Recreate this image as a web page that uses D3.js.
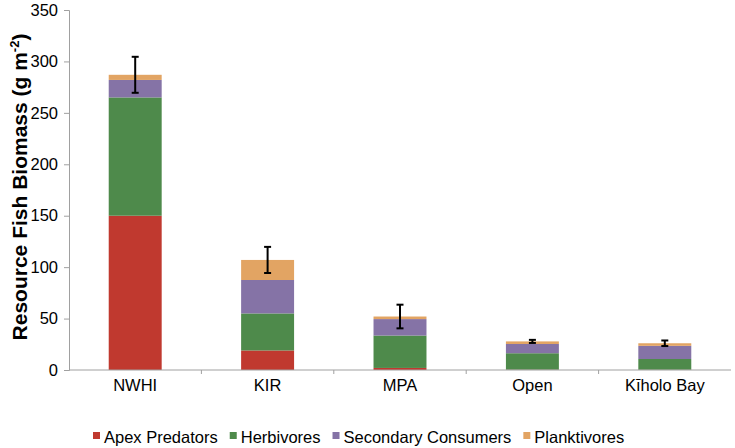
<!DOCTYPE html>
<html><head><meta charset="utf-8">
<script src="https://cdn.jsdelivr.net/npm/d3@7"></script>
<style>body{margin:0;background:#fff}svg{display:block;font-family:"Liberation Sans",Arial,sans-serif}</style>
</head><body><svg id="c" width="735" height="448"></svg>
<script>
const categories = ["NWHI","KIR","MPA","Open","Kīholo Bay"];
const seriesNames = ["Apex Predators","Herbivores","Secondary Consumers","Planktivores"];
const apex = [150, 19, 2, 0.3, 0.2];
const herbivores = [115, 36, 31.5, 16, 10.5];
const secondary = [17, 32.5, 16, 9, 12.8];
const planktivores = [5, 19.5, 2.5, 2.5, 2.5];
const errors = [17.5, 12.7, 11.5, 1.5, 2.7];
const yTicks = [0,50,100,150,200,250,300,350];
const colors = ["#c0392f","#4e8a4b","#8573a6","#e2a463"];

const svg = d3.select("#c");
const m = {left:69, right:4, top:10, bottom:78};
const W = 735, H = 448;
const x = d3.scaleBand().domain(categories).range([m.left, W - m.right]).paddingInner(0.6).paddingOuter(0.3);
const y = d3.scaleLinear().domain([0,350]).range([H - m.bottom, m.top]);

const rows = categories.map((c,i)=>({cat:c, "Apex Predators":apex[i], "Herbivores":herbivores[i], "Secondary Consumers":secondary[i], "Planktivores":planktivores[i], err:errors[i]}));
const stack = d3.stack().keys(seriesNames)(rows);

svg.append("g").selectAll("g").data(stack).join("g").attr("fill",(d,i)=>colors[i])
  .selectAll("rect").data(d=>d).join("rect")
  .attr("x",d=>x(d.data.cat)).attr("width",x.bandwidth())
  .attr("y",d=>y(d[1])).attr("height",d=>y(d[0])-y(d[1]));

// error bars
const tot = rows.map(r=>seriesNames.reduce((s,k)=>s+r[k],0));
const eb = svg.append("g").attr("stroke","#000").attr("stroke-width",2);
rows.forEach((r,i)=>{
  const cx = x(r.cat)+x.bandwidth()/2;
  const t = y(tot[i]+r.err), b = y(tot[i]-r.err);
  eb.append("line").attr("x1",cx).attr("x2",cx).attr("y1",t).attr("y2",b);
  eb.append("line").attr("x1",cx-3.5).attr("x2",cx+3.5).attr("y1",t).attr("y2",t);
  eb.append("line").attr("x1",cx-3.5).attr("x2",cx+3.5).attr("y1",b).attr("y2",b);
});

// y axis
const ya = svg.append("g").attr("transform",`translate(${m.left},0)`)
  .call(d3.axisLeft(y).tickValues(yTicks).tickSize(5).tickPadding(6));
ya.select(".domain").attr("stroke","#a0a0a0");
ya.selectAll(".tick line").attr("stroke","#a0a0a0");
ya.selectAll("text").attr("font-size",16.5).attr("fill","#000").attr("font-family","Liberation Sans, Arial, sans-serif");

// x axis
const xa = svg.append("g").attr("transform",`translate(0,${y(0)})`)
  .call(d3.axisBottom(x).tickSize(0).tickPadding(9));
xa.select(".domain").attr("stroke","#a0a0a0").attr("d",`M${m.left},0H${W-m.right}`);
xa.selectAll("text").attr("font-size",16.5).attr("fill","#000").attr("font-family","Liberation Sans, Arial, sans-serif");
const step = x.step();
const sep = categories.slice(0,-1).map((c,i)=>x(c)+x.bandwidth()/2+step/2);
xa.selectAll(".sep").data(sep).join("line").attr("class","sep")
  .attr("x1",d=>d).attr("x2",d=>d).attr("y1",0).attr("y2",4).attr("stroke","#a0a0a0");

// y title
const yt = svg.append("text").attr("transform",`translate(27,${(y(0)+y(350))/2 - 3}) rotate(-90)`)
  .attr("text-anchor","middle").attr("font-size",21).attr("font-weight","bold").attr("fill","#000");
yt.append("tspan").text("Resource Fish Biomass (g m");
yt.append("tspan").attr("font-size",13).attr("dy",-8).text("-2");
yt.append("tspan").attr("dy",8).text(")");

// legend
const lg = svg.append("g").attr("transform","translate(93,437)");
let lx = 0;
seriesNames.forEach((s,i)=>{
  const g = lg.append("g").attr("transform",`translate(${lx},0)`);
  g.append("rect").attr("x",0).attr("y",-5).attr("width",7).attr("height",7).attr("fill",colors[i]);
  const t = g.append("text").attr("x",11).attr("y",6).attr("font-size",16.5).attr("fill","#000").text(s);
  lx += 11 + t.node().getComputedTextLength() + 12;
});
</script></body></html>
